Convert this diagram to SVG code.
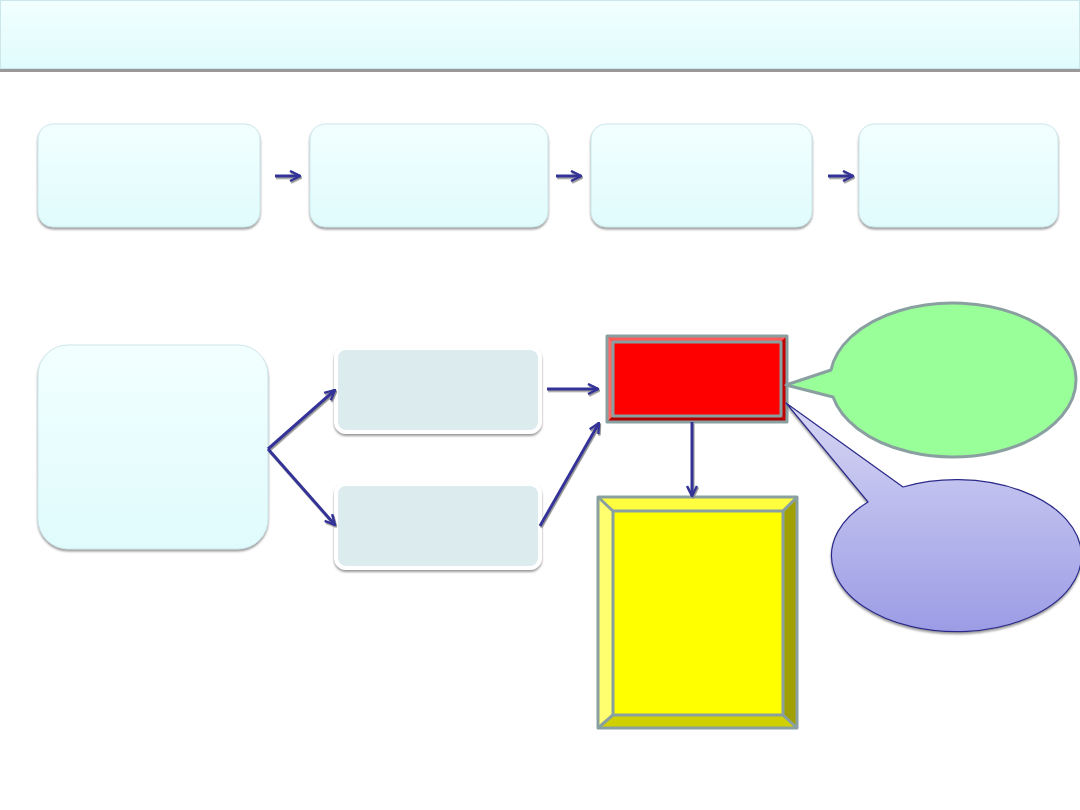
<svg xmlns="http://www.w3.org/2000/svg" width="1080" height="810" viewBox="0 0 1080 810">
<style>
.pale{fill:url(#gPale);stroke:#CDE6EA;stroke-width:1;filter:url(#sh)}
.mid{fill:#DCECEE;stroke:#FFFFFF;stroke-width:4;filter:url(#sh)}
.conn{fill:none;stroke:#333399;stroke-width:3}
.bev{stroke:#8AA0A0;stroke-width:3;stroke-linejoin:round}
</style>
<defs>
<linearGradient id="gPale" x1="0" y1="0" x2="0" y2="1">
<stop offset="0" stop-color="#F2FFFF"/><stop offset="1" stop-color="#E0FBFC"/>
</linearGradient>
<linearGradient id="gBlue" x1="0" y1="0" x2="0" y2="1">
<stop offset="0" stop-color="#D6D6F4"/><stop offset="1" stop-color="#9C9CE6"/>
</linearGradient>
<filter id="sh" x="-10%" y="-10%" width="120%" height="130%">
<feDropShadow dx="0" dy="2" stdDeviation="1" flood-color="#808080" flood-opacity="0.8"/>
</filter>
<filter id="ash" filterUnits="userSpaceOnUse" x="0" y="0" width="1080" height="810">
<feDropShadow dx="1" dy="1.5" stdDeviation="0.6" flood-color="#888888" flood-opacity="0.9"/>
</filter>
<marker id="head" markerUnits="userSpaceOnUse" viewBox="0 0 12 12" refX="11" refY="6" markerWidth="12" markerHeight="12" orient="auto">
<path d="M1,1 L11,6 L1,11" fill="none" stroke="#333399" stroke-width="2.5"/>
</marker>
</defs>
<rect width="1080" height="810" fill="#FFFFFF"/>

<g id="header">
<rect x="0" y="0" width="1080" height="72" fill="#999999"/>
<rect x="0.5" y="0.5" width="1079" height="68" fill="url(#gPale)" stroke="#CDE6EA"/>
</g>

<g id="step1"><rect class="pale" x="38" y="124" width="222" height="103" rx="15"/></g>
<g id="step2"><rect class="pale" x="310" y="124" width="238" height="103" rx="15"/></g>
<g id="step3"><rect class="pale" x="591" y="124" width="221" height="103" rx="15"/></g>
<g id="step4"><rect class="pale" x="859" y="124" width="199" height="103" rx="15"/></g>

<g id="source"><rect class="pale" x="38" y="345" width="230" height="204" rx="30"/></g>
<g id="branchA"><rect class="mid" x="336" y="348" width="204" height="84" rx="10"/></g>
<g id="branchB"><rect class="mid" x="336" y="484" width="204" height="84" rx="10"/></g>

<g id="redBox">
<rect x="607" y="336" width="180" height="86" fill="#FF0000"/>
<polygon points="607,336 787,336 781,342 613,342" fill="#FF5A5A"/>
<polygon points="607,336 613,342 613,416 607,422" fill="#FF6A6A"/>
<polygon points="787,336 787,422 781,416 781,342" fill="#C00000"/>
<polygon points="607,422 787,422 781,416 613,416" fill="#B00000"/>
<rect class="bev" x="607" y="336" width="180" height="86" fill="none"/>
<rect class="bev" x="613" y="342" width="168" height="74" fill="none"/>
</g>

<g id="yellowBox">
<rect x="598" y="497" width="199" height="231" fill="#FFFF00"/>
<polygon points="598,497 797,497 783,511 613,511" fill="#FFFF40"/>
<polygon points="598,497 613,511 613,715 598,728" fill="#FFFF70"/>
<polygon points="797,497 797,728 783,715 783,511" fill="#A0A000"/>
<polygon points="598,728 797,728 783,715 613,715" fill="#D0D000"/>
<rect class="bev" x="598" y="497" width="199" height="231" fill="none"/>
<rect class="bev" x="613" y="511" width="170" height="204" fill="none"/>
<path class="bev" d="M598,497 L613,511 M797,497 L783,511 M598,728 L613,715 M797,728 L783,715" fill="none"/>
</g>

<g id="greenCallout">
<path d="M786,385 L831,370 A123,77 0 1 1 833,397 Z" fill="#99FF99" stroke="#8AA0A0" stroke-width="3" stroke-linejoin="round"/>
</g>

<g id="blueCallout">
<path d="M786,403 L903,487 A125,76 0 1 1 868,502 Z" fill="url(#gBlue)" stroke="#2A2A8A" stroke-width="1.2" stroke-linejoin="round" filter="url(#sh)"/>
</g>

<g id="connectors" filter="url(#ash)">
<line class="conn" x1="275" y1="176" x2="300" y2="176" stroke-width="4" marker-end="url(#head)"/>
<line class="conn" x1="556" y1="176" x2="581" y2="176" stroke-width="4" marker-end="url(#head)"/>
<line class="conn" x1="828" y1="176" x2="853" y2="176" stroke-width="4" marker-end="url(#head)"/>
<line class="conn" x1="268" y1="449" x2="335" y2="390" marker-end="url(#head)"/>
<line class="conn" x1="268" y1="449" x2="335" y2="525" marker-end="url(#head)"/>
<line class="conn" x1="547" y1="389" x2="598" y2="389" marker-end="url(#head)"/>
<line class="conn" x1="540" y1="526" x2="599" y2="423" marker-end="url(#head)"/>
<line class="conn" x1="692" y1="422" x2="692" y2="496" marker-end="url(#head)"/>
</g>
</svg>
